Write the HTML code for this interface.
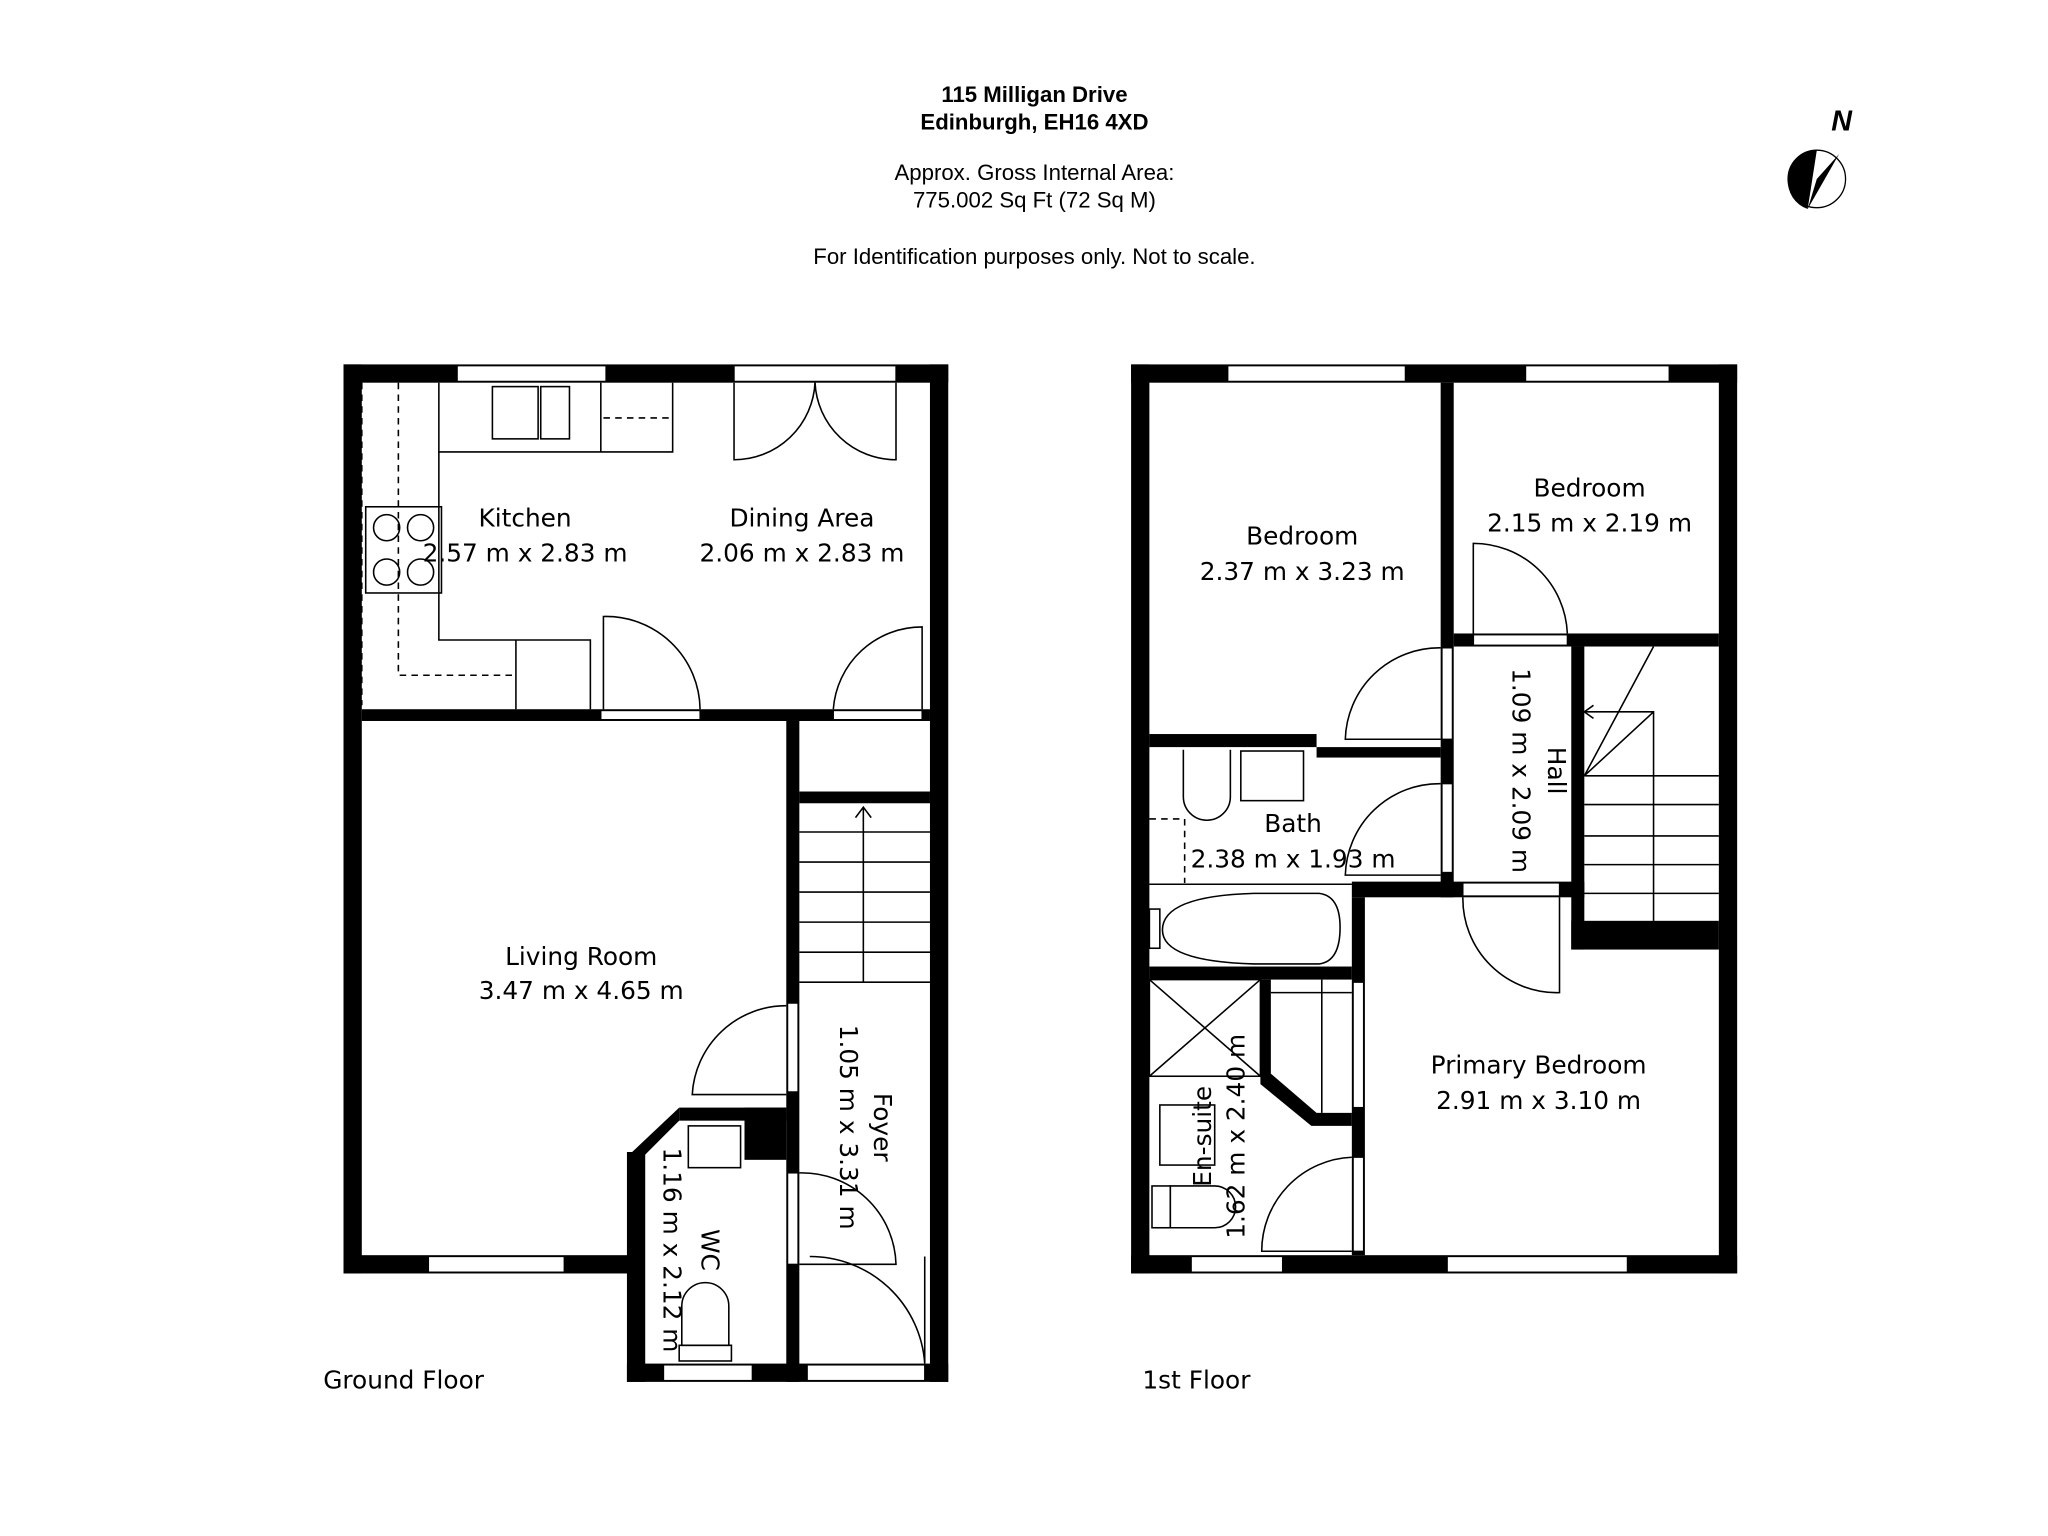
<!DOCTYPE html>
<html><head><style>html,body{margin:0;padding:0;background:#fff}svg{display:block}</style></head>
<body>
<svg width="2048" height="1536" viewBox="0 0 1568 1176" xmlns="http://www.w3.org/2000/svg" font-family="'Liberation Sans', 'DejaVu Sans', sans-serif">
<rect width="1568" height="1176" fill="#fff"/>
<g text-anchor="middle" fill="#000">
<text x="792" y="78" font-size="17" font-weight="bold">115 Milligan Drive</text>
<text x="792" y="99" font-size="17" font-weight="bold">Edinburgh, EH16 4XD</text>
<text x="792" y="138" font-size="17">Approx. Gross Internal Area:</text>
<text x="792" y="159" font-size="17">775.002 Sq Ft (72 Sq M)</text>
<text x="792" y="202" font-size="17">For Identification purposes only. Not to scale.</text>
</g>
<!-- north -->
<g>
<circle cx="1391" cy="137" r="22" fill="none" stroke="#000" stroke-width="1"/>
<path d="M1369 137 A22 22 0 0 1 1391 115 L1384 160 A22 22 0 0 1 1369 137Z" fill="#000"/>
<path d="M1408 118 L1384 160 L1391 137Z" fill="#000"/>
<text x="1410" y="100" font-size="22" font-weight="bold" font-style="italic" text-anchor="middle">N</text>
</g>
<g fill="#000">
<rect x="263" y="279" width="463" height="14"/>
<rect x="263" y="279" width="14" height="696"/>
<rect x="712" y="279" width="14" height="779"/>
<rect x="263" y="961" width="221" height="14"/>
<rect x="480" y="1044" width="246" height="14"/>
<rect x="480" y="882" width="14" height="176"/>
<rect x="277" y="543" width="435" height="9"/>
<rect x="602" y="552" width="10" height="506"/>
<rect x="612" y="606" width="100" height="9"/>
<rect x="520" y="848" width="82" height="10"/>
<polygon points="484,882 520,848 520,858 494,884"/>
<rect x="570" y="848" width="32" height="40"/>
<rect x="866" y="279" width="464" height="14"/>
<rect x="866" y="279" width="14" height="696"/>
<rect x="1316" y="279" width="14" height="696"/>
<rect x="866" y="961" width="464" height="14"/>
<rect x="1103" y="293" width="10" height="394"/>
<rect x="1113" y="485" width="203" height="10"/>
<rect x="1203" y="495" width="10" height="232"/>
<rect x="1203" y="705" width="113" height="22"/>
<rect x="880" y="562" width="128" height="10"/>
<rect x="1008" y="572" width="95" height="8"/>
<rect x="1035" y="675" width="178" height="12"/>
<rect x="880" y="740" width="155" height="10"/>
<rect x="1035" y="687" width="10" height="274"/>
<polygon points="965,750 973,750 973,822 1008,852 1035,852 1035,862 1004,862 965,830"/>
</g>
<g fill="#fff" stroke="#000" stroke-width="1">
<rect x="350" y="280" width="114" height="12"/>
<rect x="562" y="280" width="124" height="12"/>
<rect x="328" y="962" width="104" height="12"/>
<rect x="508" y="1045" width="68" height="12"/>
<rect x="940" y="280" width="136" height="12"/>
<rect x="1168" y="280" width="110" height="12"/>
<rect x="912" y="962" width="70" height="12"/>
<rect x="1108" y="962" width="138" height="12"/>
<rect x="460" y="544" width="76" height="7"/>
<rect x="638" y="544" width="68" height="7"/>
<rect x="603" y="768" width="8" height="68"/>
<rect x="603" y="898" width="8" height="70"/>
<rect x="618" y="1045" width="90" height="12"/>
<rect x="1128" y="486" width="72" height="8"/>
<rect x="1104" y="496" width="8" height="70"/>
<rect x="1104" y="600" width="8" height="68"/>
<rect x="1120" y="676" width="74" height="10"/>
<rect x="1036" y="886" width="8" height="72"/>
<rect x="1036" y="752" width="8" height="96"/>
</g>
<g fill="none" stroke="#000" stroke-width="1.2">
<path d="M277 293 L277 540" stroke-dasharray="5 4"/>
<path d="M305 293 L305 517 L395 517" stroke-dasharray="5 4"/>
<path d="M336 293 L336 346 L515 346 L515 293"/>
<path d="M336 346 L336 490 L452 490 L452 543"/>
<path d="M395 490 L395 543"/>
<path d="M460 293 L460 346"/>
<path d="M462 320 L512 320" stroke-dasharray="5 4"/>
<rect x="377" y="296" width="35" height="40"/><rect x="414" y="296" width="22" height="40"/>
<rect x="280" y="388" width="58" height="66"/>
<circle cx="296" cy="404" r="10"/><circle cx="322" cy="404" r="10"/><circle cx="296" cy="438" r="10"/><circle cx="322" cy="438" r="10"/>
<path d="M562 293 L562 352 A62 62 0 0 0 624 293"/>
<path d="M686 293 L686 352 A62 62 0 0 1 624 293"/>
<path d="M462 543 L462 472 A72 72 0 0 1 536 543"/>
<path d="M706 543 L706 480 A68 68 0 0 0 638 543"/>
<path d="M602 770 A72 72 0 0 0 530 838 L602 838"/>
<path d="M612 898 A72 72 0 0 1 686 968 L612 968"/>
<path d="M708 962 L708 1044 A88 88 0 0 0 620 962"/>
<path d="M612 660 L712 660 M612 683 L712 683 M612 706 L712 706 M612 729 L712 729 M612 752 L712 752 M612 637 L712 637"/>
<path d="M661 752 L661 618 M655 626 L661 618 L667 626"/>
<rect x="527" y="862" width="40" height="32"/>
<path d="M522 1030 L522 1000 A18 18 0 0 1 558 1000 L558 1030 Z"/>
<rect x="520" y="1030" width="40" height="12"/>
<path d="M1128 495 L1128 416 A72 72 0 0 1 1200 485"/>
<path d="M1103 496 A72 72 0 0 0 1030 566 L1103 566"/>
<path d="M1103 600 A72 72 0 0 0 1030 670 L1103 670"/>
<path d="M1194 687 L1194 760 A72 72 0 0 1 1120 687"/>
<path d="M1035 886 A72 72 0 0 0 966 958 L1035 958"/>
<path d="M1213 594 L1316 594 M1213 616 L1316 616 M1213 640 L1316 640 M1213 662 L1316 662 M1213 684 L1316 684"/>
<path d="M1266 705 L1266 545 L1213 545 M1213 594 L1266 545 M1213 594 L1266 495"/>
<path d="M1220 540 L1213 545 L1220 550"/>
<rect x="950" y="575" width="48" height="38"/>
<path d="M906 574 L906 610 A18 18 0 0 0 942 610 L942 574"/>
<path d="M880 627 L907 627 L907 676" stroke-dasharray="5 4"/>
<path d="M880 677 L1035 677"/>
<path d="M890 712 Q890 686 960 684 L1010 684 Q1026 686 1026 710 Q1026 736 1010 738 L960 738 Q890 736 890 712Z"/>
<rect x="880" y="696" width="8" height="30"/>
<rect x="880" y="750" width="85" height="74"/>
<path d="M880 750 L965 824 M965 750 L880 824"/>
<rect x="888" y="846" width="42" height="46"/>
<path d="M896 908 L930 908 A16 16 0 0 1 930 940 L896 940 Z"/>
<rect x="882" y="908" width="14" height="32"/>
<path d="M1012 750 L1012 852 M973 760 L1035 760"/>
</g>
<g text-anchor="middle" font-size="19" fill="#000" font-family="'DejaVu Sans', 'Liberation Sans', sans-serif">
<text x="402" y="403">Kitchen</text><text x="402" y="430">2.57 m x 2.83 m</text>
<text x="614" y="403">Dining Area</text><text x="614" y="430">2.06 m x 2.83 m</text>
<text x="445" y="739">Living Room</text><text x="445" y="765">3.47 m x 4.65 m</text>
<text x="997" y="417">Bedroom</text><text x="997" y="444">2.37 m x 3.23 m</text>
<text x="1217" y="380">Bedroom</text><text x="1217" y="407">2.15 m x 2.19 m</text>
<text x="990" y="637">Bath</text><text x="990" y="664">2.38 m x 1.93 m</text>
<text x="1178" y="822">Primary Bedroom</text><text x="1178" y="849">2.91 m x 3.10 m</text>
<text x="309" y="1063">Ground Floor</text>
<text x="916" y="1063">1st Floor</text>
<text transform="translate(669,863) rotate(90)">Foyer</text>
<text transform="translate(643,863) rotate(90)">1.05 m x 3.31 m</text>
<text transform="translate(537,957) rotate(90)">WC</text>
<text transform="translate(508,957) rotate(90)">1.16 m x 2.12 m</text>
<text transform="translate(1185,590) rotate(90)">Hall</text>
<text transform="translate(1158,590) rotate(90)">1.09 m x 2.09 m</text>
<text transform="translate(927,870) rotate(-90)">En-suite</text>
<text transform="translate(953,870) rotate(-90)">1.62 m x 2.40 m</text>
</g>
</svg>
</body></html>
